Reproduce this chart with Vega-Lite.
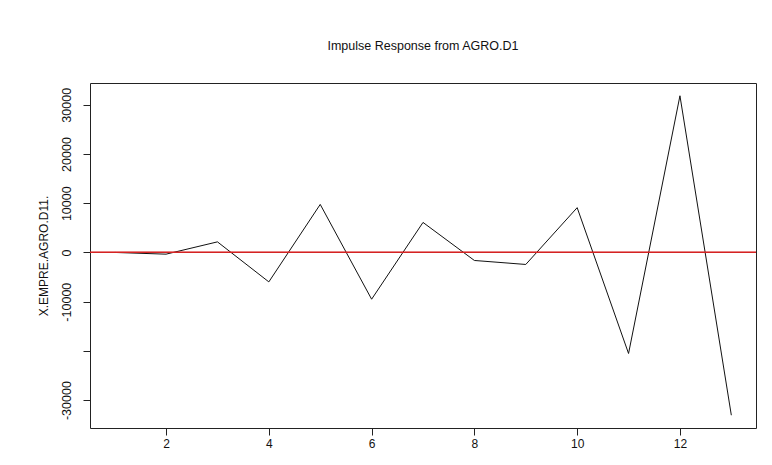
{
  "$schema": "https://vega.github.io/schema/vega-lite/v6.json",
  "autosize": {"type": "none"},
  "padding": {"left": 90, "top": 83, "right": 16, "bottom": 37},
  "width": 666,
  "height": 345,
  "background": "white",
  "title": {
    "text": "Impulse Response from AGRO.D1",
    "font": "Liberation Sans",
    "fontSize": 12.5,
    "fontWeight": "normal",
    "color": "#111",
    "anchor": "middle",
    "baseline": "middle",
    "offset": 25
  },
  "data": {
    "values": [
      {"step": 1, "response": 0},
      {"step": 2, "response": -350},
      {"step": 3, "response": 2150},
      {"step": 4, "response": -5980},
      {"step": 5, "response": 9760},
      {"step": 6, "response": -9500},
      {"step": 7, "response": 6100},
      {"step": 8, "response": -1630},
      {"step": 9, "response": -2440},
      {"step": 10, "response": 9100},
      {"step": 11, "response": -20530},
      {"step": 12, "response": 31830},
      {"step": 13, "response": -33070}
    ]
  },
  "layer": [
    {
      "mark": {"type": "line", "color": "#111", "strokeWidth": 1, "clip": true},
      "encoding": {
        "x": {
          "field": "step",
          "type": "quantitative",
          "scale": {"domain": [0.52, 13.48], "nice": false, "zero": false},
          "axis": {
            "title": null,
            "values": [2, 4, 6, 8, 10, 12],
            "domain": false,
            "grid": false,
            "tickSize": 7,
            "tickColor": "#222",
            "labelFont": "Liberation Sans",
            "labelFontSize": 12,
            "labelColor": "#111",
            "labelPadding": 3
          }
        },
        "y": {
          "field": "response",
          "type": "quantitative",
          "scale": {"domain": [-35666, 34426], "nice": false, "zero": false},
          "axis": {
            "title": "X.EMPRE.AGRO.D11.",
            "titleFont": "Liberation Sans",
            "titleFontSize": 12,
            "titleFontWeight": "normal",
            "titleColor": "#111",
            "titlePadding": 10,
            "values": [-30000, -20000, -10000, 0, 10000, 20000, 30000],
            "labelExpr": "datum.value == -20000 ? '' : '' + datum.value",
            "domain": false,
            "grid": false,
            "tickSize": 7,
            "tickColor": "#222",
            "labelAngle": 270,
            "labelAlign": "center",
            "labelBaseline": "bottom",
            "labelFont": "Liberation Sans",
            "labelFontSize": 12.5,
            "labelColor": "#111",
            "labelPadding": 10
          }
        }
      }
    },
    {
      "mark": {"type": "rule", "color": "#d42424", "strokeWidth": 1},
      "encoding": {"y": {"datum": 0}}
    }
  ],
  "config": {
    "view": {"stroke": "#222", "strokeWidth": 1}
  }
}
